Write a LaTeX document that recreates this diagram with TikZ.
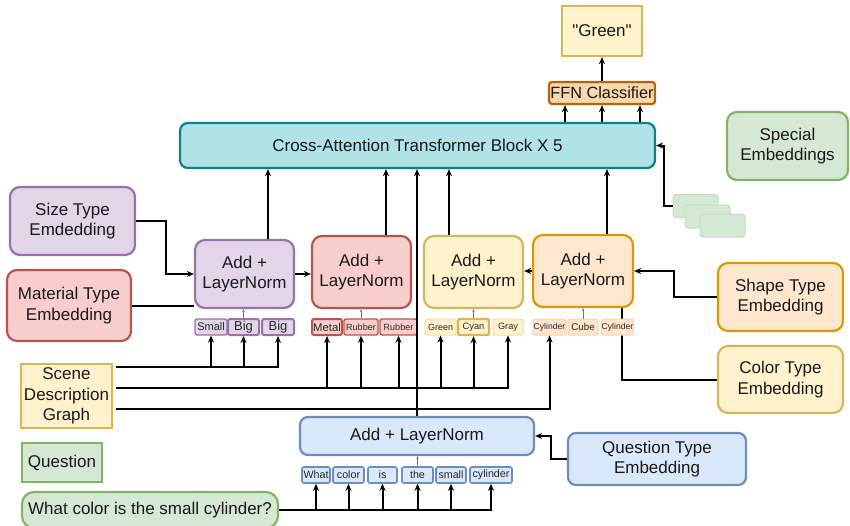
\documentclass[tikz,border=0pt]{standalone}
\usepackage{fontspec}
\setmainfont{Liberation Sans}
\newfontfamily\plainfont{Liberation Sans}
\usetikzlibrary{arrows.meta,calc,positioning}

\definecolor{purpfill}{HTML}{E1D5E7}
\definecolor{purpdraw}{HTML}{9673A6}
\definecolor{redfill}{HTML}{F8CECC}
\definecolor{reddraw}{HTML}{B85450}
\definecolor{yelfill}{HTML}{FFF2CC}
\definecolor{yeldraw}{HTML}{D6B656}
\definecolor{yellite}{HTML}{F5E0A0}
\definecolor{orgfill}{HTML}{FFE6CC}
\definecolor{orgdraw}{HTML}{D79B00}
\definecolor{orglite}{HTML}{F8D3A4}
\definecolor{grnfill}{HTML}{D5E8D4}
\definecolor{grndraw}{HTML}{82B366}
\definecolor{grnlite}{HTML}{C2DDBE}
\definecolor{blufill}{HTML}{DAE8FC}
\definecolor{bludraw}{HTML}{6C8EBF}
\definecolor{tealfill}{HTML}{B0E3E6}
\definecolor{tealdraw}{HTML}{0E8088}
\definecolor{ffnfill}{HTML}{FAD7AC}
\definecolor{ffndraw}{HTML}{B46504}

\tikzset{
  box/.style={draw, line width=2.2pt, rounded corners=10pt, align=center, inner sep=0pt,
    text=black!90, font=\fontsize{17}{20.5}\selectfont},
  purpbox/.style={box, fill=purpfill, draw=purpdraw},
  redbox/.style={box, fill=redfill, draw=reddraw},
  yelbox/.style={box, fill=yelfill, draw=yeldraw},
  orgbox/.style={box, fill=orgfill, draw=orgdraw},
  grnbox/.style={box, fill=grnfill, draw=grndraw},
  blubox/.style={box, fill=blufill, draw=bludraw},
  tok/.style={draw, rounded corners=2pt, inner sep=0pt, minimum height=16pt,
    line width=1.6pt, text=black!85},
  purptok/.style={tok, fill=purpfill, draw=purpdraw},
  redtok/.style={tok, fill=redfill, draw=reddraw, line width=2pt},
  yeltok/.style={tok, fill=yelfill, draw=yellite, line width=1pt},
  orgtok/.style={tok, fill=orgfill, draw=orglite, line width=1pt},
  blutok/.style={tok, fill=blufill, draw=bludraw, font=\fontsize{10.7}{12}\selectfont},
  spare/.style={draw=grnlite, fill=grnfill, line width=1pt, rounded corners=3pt,
    minimum width=45pt, minimum height=23pt},
  conn/.style={line width=2pt},
  arr/.style={conn, -{Stealth[length=7pt,width=6pt]}},
  tokarr/.style={draw=black!55, line width=0.6pt, -{Stealth[length=3pt,width=2.5pt]}},
}

\pgfdeclarelayer{back}
\pgfsetlayers{back,main}

\begin{document}
\begin{tikzpicture}[x=1pt,y=-1pt]
          \useasboundingbox (0,0) rectangle (850,525);
          % head
          \node[yelbox, rounded corners=0pt, minimum width=80pt, minimum height=50pt] (ans) at (602,31) {{\plainfont "Green"}};
          \node[box, fill=ffnfill, draw=ffndraw, rounded corners=3pt, minimum width=106pt, minimum height=22pt,
            font=\fontsize{16.3}{18}\selectfont] (ffn) at (602,93) {FFN Classifier};
          \node[box, fill=tealfill, draw=tealdraw, rounded corners=8pt, minimum width=475pt, minimum height=45pt] (trans) at (417.5,145.5) {Cross-Attention Transformer Block X 5};
          \node[grnbox, minimum width=121pt, minimum height=68pt] (special) at (787.5,146) {Special\\Embeddings};
          \node[spare] (sp1) at (695.5,206) {};
          \node[spare] (sp2) at (707.5,216.5) {};
          \node[spare] (sp3) at (722.5,225.5) {};

          % type embeddings
          \node[purpbox, minimum width=125pt, minimum height=68pt] (size) at (72.5,221) {Size Type\\Emdedding};
          \node[redbox, minimum width=124pt, minimum height=71pt] (mat) at (69,305.5) {Material Type\\Embedding};
          \node[orgbox, minimum width=125pt, minimum height=68pt] (shape) at (780.5,297) {Shape Type\\Embedding};
          \node[yelbox, minimum width=125pt, minimum height=67pt] (color) at (780.5,379.5) {Color Type\\Embedding};

          % add + layernorm per attribute
          \node[purpbox, minimum width=99pt, minimum height=68pt] (addP) at (244.5,274) {Add +\\LayerNorm};
          \node[redbox, minimum width=99pt, minimum height=72pt] (addR) at (361.5,272) {Add +\\LayerNorm};
          \node[yelbox, minimum width=99pt, minimum height=72pt] (addY) at (473.5,272) {Add +\\LayerNorm};
          \node[orgbox, minimum width=100pt, minimum height=72pt] (addO) at (583,271) {Add +\\LayerNorm};

          % scene tokens
          \node[purptok, minimum width=32pt, line width=1.3pt, font=\fontsize{11}{12}\selectfont] (tP1) at (211,327) {Small};
          \node[purptok, minimum width=31pt, line width=2pt, font=\fontsize{13}{14}\selectfont] (tP2) at (243.5,327) {Big};
          \node[purptok, minimum width=32pt, line width=2pt, font=\fontsize{13}{14}\selectfont] (tP3) at (278,327) {Big};
          \node[redtok, minimum width=30pt, font=\fontsize{11.3}{12}\selectfont] (tR1) at (327,327) {Metal};
          \node[redtok, minimum width=34pt, line width=1.4pt, font=\fontsize{9}{10}\selectfont] (tR2) at (361,327) {Rubber};
          \node[redtok, minimum width=37pt, line width=1.4pt, font=\fontsize{9}{10}\selectfont] (tR3) at (398.5,327) {Rubber};
          \node[yeltok, minimum width=31pt, font=\fontsize{9}{10}\selectfont] (tY1) at (440.5,327) {Green};
          \node[yeltok, minimum width=31pt, draw=yeldraw, line width=2.4pt, font=\fontsize{9.3}{10}\selectfont] (tY2) at (473.5,327) {Cyan};
          \node[yeltok, minimum width=30pt, font=\fontsize{9.2}{10}\selectfont] (tY3) at (508,327) {Gray};
          \node[orgtok, minimum width=33pt, font=\fontsize{8.6}{10}\selectfont] (tO1) at (549.5,327) {Cylinder};
          \node[orgtok, minimum width=30pt, font=\fontsize{9.8}{10}\selectfont] (tO2) at (583,327) {Cube};
          \node[orgtok, minimum width=31pt, font=\fontsize{8.6}{10}\selectfont] (tO3) at (617.5,327) {Cylinder};

          % inputs
          \node[yelbox, rounded corners=0pt, minimum width=91pt, minimum height=64pt] (sdg) at (66.5,396) {Scene\\Description\\Graph};
          \node[grnbox, rounded corners=0pt, minimum width=80pt, minimum height=39pt] (quest) at (62,462.5) {Question};
          \node[grnbox, rounded corners=12pt, minimum width=256pt, minimum height=36pt] (sent) at (150,510) {What color is the small cylinder?};
          \node[blubox, rounded corners=8pt, minimum width=234pt, minimum height=38pt] (addQ) at (417,436) {Add + LayerNorm};
          \node[blubox, rounded corners=8pt, minimum width=178pt, minimum height=52pt] (qtype) at (657,459) {Question Type\\Embedding};

          % question tokens
          \node[blutok, minimum width=28pt] (q1) at (316,475) {What};
          \node[blutok, minimum width=31pt] (q2) at (348.5,475) {color};
          \node[blutok, minimum width=29pt] (q3) at (382.5,475) {is};
          \node[blutok, minimum width=31pt] (q4) at (417.5,475) {the};
          \node[blutok, minimum width=30pt] (q5) at (451,475) {small};
          \node[blutok, minimum width=42pt] (q6) at (491,475) {cylinder};

          \coordinate (r1) at (116,367);
          \coordinate (r2) at (116,388);
          \coordinate (r3) at (116,409);

          % head arrows
          \foreach \x in {565,602,640}
            \draw[arr] (trans.north -| \x,0) -- (ffn.south -| \x,0);
          \draw[arr] (ffn.north) -- (ans.south);
          \draw[arr] (sp1.west) -- ++(-9,0) |- (trans.east);

          % attribute stack
          \draw[arr] (size.east) -- ++(30,0) |- (addP.west);
          \draw[conn] (mat.east) -- (mat.east -| addP.west);
          \draw[arr] (addP.east) -- (addP.east -| addR.west);
          \draw[arr] (addO.west) -- (addO.west -| addY.east);
          \draw[arr] (shape.west) -- ++(-43,0) |- (addO.east);
          \begin{pgfonlayer}{back}
            \draw[conn] (color.west) -| ([xshift=-12pt]addO.south east);
          \end{pgfonlayer}
          \draw[arr] (addP.north -| 268,0) -- (trans.south -| 268,0);
          \draw[arr] (addR.north -| 386,0) -- (trans.south -| 386,0);
          \draw[arr] (addY.north -| 449,0) -- (trans.south -| 449,0);
          \draw[arr] (addO.north -| 607,0) -- (trans.south -| 607,0);
          \draw[arr] (addQ.north) -- (addQ.north |- trans.south);

          % tokens into their boxes
          \draw[tokarr] (tP2.north) -- (tP2.north |- addP.south);
          \draw[tokarr] (tR2.north) -- (tR2.north |- addR.south);
          \draw[tokarr] (tY2.north) -- (tY2.north |- addY.south);
          \draw[tokarr] (tO2.north) -- (tO2.north |- addO.south);
          \draw[tokarr] (q4.north) -- (q4.north |- addQ.south);

          % scene graph rails
          \draw[arr] (r1) -| (tP3.south);
          \foreach \t in {tP1,tP2}
            \draw[arr] (\t.south |- r1) -- (\t.south);
          \draw[arr] (r2) -| (tY3.south);
          \foreach \t in {tR1,tR2,tR3,tY1,tY2}
            \draw[arr] (\t.south |- r2) -- (\t.south);
          \draw[arr] (r3) -| (tO1.south);

          % question
          \draw[arr] (sent.east) -| (q6.south);
          \foreach \t in {q1,q2,q3,q4,q5}
            \draw[arr] (\t.south |- sent.east) -- (\t.south);
          \draw[arr] (qtype.west) -- ++(-16,0) |- (addQ.east);
        \end{tikzpicture}
\end{document}
